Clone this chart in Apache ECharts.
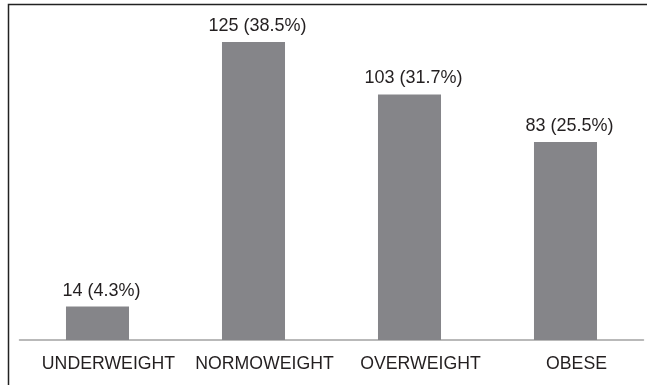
<!DOCTYPE html>
<html>
<head>
<meta charset="utf-8">
<script src="https://cdn.jsdelivr.net/npm/echarts@6/dist/echarts.min.js"></script>
<style>
  html, body { margin: 0; padding: 0; background: #fff; }
  #chart { width: 647px; height: 385px; }
</style>
</head>
<body>
<div id="chart"></div>
<script>
// 体重分类
const categories = ['UNDERWEIGHT', 'NORMOWEIGHT', 'OVERWEIGHT', 'OBESE']
// 人数
const counts = [14, 125, 103, 83]
// 百分比
const percents = ['4.3%', '38.5%', '31.7%', '25.5%']

const chart = echarts.init(document.getElementById('chart'), null, { renderer: 'canvas' })

chart.setOption({
  animation: false,
  grid: { left: 19.5, right: 3.5, top: 30, bottom: 45 },
  xAxis: {
    type: 'category',
    data: categories,
    axisLine: { lineStyle: { color: '#a3a3a3', width: 1.5 } },
    axisTick: { show: false },
    axisLabel: {
      interval: 0,
      hideOverlap: false,
      color: '#231f20',
      fontFamily: 'Liberation Sans',
      fontSize: 17.7,
      margin: 15,
      // 标签整体右移约 11px
      padding: [0, 0, 0, 22]
    }
  },
  yAxis: {
    type: 'value',
    min: 0,
    max: 130,
    show: false,
    splitLine: { show: false }
  },
  series: [
    {
      type: 'bar',
      data: counts,
      barWidth: '40.4%',
      itemStyle: { color: '#858589' },
      label: {
        show: true,
        position: 'top',
        distance: 7,
        offset: [4, 0],
        color: '#231f20',
        fontFamily: 'Liberation Sans',
        fontSize: 18,
        formatter: p => p.value + ' (' + percents[p.dataIndex] + ')'
      }
    }
  ],
  // 外框 (左、上)
  graphic: [
    {
      type: 'polyline',
      shape: { points: [[8.5, 385], [8.5, 4.5], [647, 4.5]] },
      style: { stroke: '#222', lineWidth: 1.5, fill: null },
      silent: true
    }
  ]
})
</script>
</body>
</html>
